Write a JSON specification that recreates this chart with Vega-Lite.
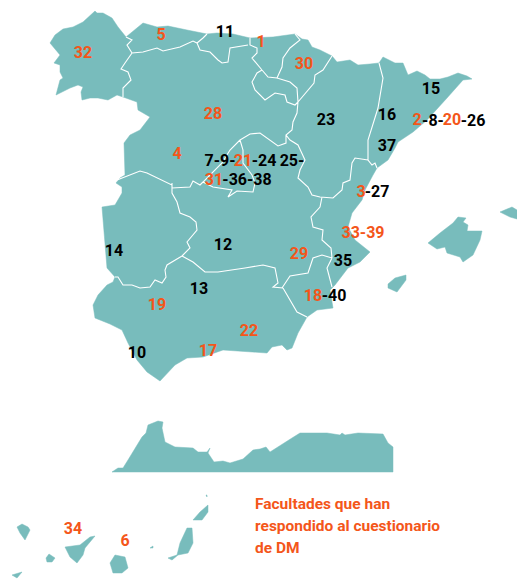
{"$schema":"https://vega.github.io/schema/vega-lite/v6.json","width":517,"height":579,"padding":0,"autosize":"none","background":"white","view":{"stroke":null},"projection":{"type":"identity","scale":1,"translate":[0,0]},"layer":[
{"data":{"values":[
{"type":"Feature","properties":{"name":"Peninsula"},"geometry":{"type":"Polygon","coordinates":[[[50,43],[55,35],[63,29],[73,27],[83,22],[95,11],[97,13],[103,13],[112,18],[118,27],[126,37],[143,23],[157,27],[168,26],[187,30],[207,34],[217,33],[233,34],[250,38],[273,37],[295,34],[302,39],[308,40],[312,47],[320,50],[332,56],[337,62],[350,60],[358,65],[370,64],[379,63],[383,57],[395,63],[403,63],[408,75],[417,71],[425,75],[430,79],[440,79],[448,77],[458,73],[467,76],[472,79],[463,80],[447,98],[427,120],[413,132],[398,142],[395,148],[388,160],[377,168],[373,175],[365,190],[362,200],[352,213],[348,227],[355,240],[370,252],[360,262],[348,268],[335,285],[330,290],[333,308],[317,310],[307,317],[298,333],[292,348],[287,350],[282,345],[272,347],[267,353],[223,350],[203,357],[187,358],[175,365],[160,381],[147,372],[137,360],[128,343],[122,330],[110,324],[95,318],[93,305],[98,295],[107,285],[113,282],[115,277],[107,268],[102,207],[115,205],[122,193],[122,187],[116,183],[120,178],[125,175],[124,143],[130,135],[140,130],[150,117],[138,110],[137,102],[123,97],[117,95],[108,100],[98,98],[90,98],[82,100],[81,92],[83,87],[78,85],[70,88],[56,95],[60,80],[63,78],[60,72],[60,65],[54,63],[60,55],[50,43]]]}},
{"type":"Feature","properties":{"name":"Mallorca"},"geometry":{"type":"Polygon","coordinates":[[[428,243],[440,233],[453,223],[458,217],[466,218],[463,222],[468,225],[467,231],[482,231],[480,240],[473,255],[463,262],[460,257],[447,253],[445,247],[437,249],[428,243]]]}},
{"type":"Feature","properties":{"name":"Menorca"},"geometry":{"type":"Polygon","coordinates":[[[500,212],[512,207],[517,210],[517,219],[510,217],[500,212]]]}},
{"type":"Feature","properties":{"name":"Ibiza"},"geometry":{"type":"Polygon","coordinates":[[[388,284],[395,278],[406,275],[406,280],[397,292],[388,288],[388,284]]]}},
{"type":"Feature","properties":{"name":"Marruecos"},"geometry":{"type":"Polygon","coordinates":[[[112,472],[118,468],[123,468],[128,460],[142,437],[146,433],[148,425],[158,421],[163,422],[162,428],[165,442],[175,447],[193,448],[198,452],[207,452],[210,448],[208,453],[214,462],[223,461],[230,463],[243,459],[253,450],[260,449],[266,447],[270,452],[292,438],[300,433],[327,433],[340,435],[342,433],[345,435],[358,433],[383,434],[388,443],[393,447],[393,472],[112,472]]]}},
{"type":"Feature","properties":{"name":"La Palma"},"geometry":{"type":"Polygon","coordinates":[[[17,527],[22,524],[28,527],[30,530],[25,540],[20,533],[17,527]]]}},
{"type":"Feature","properties":{"name":"Gomera"},"geometry":{"type":"Polygon","coordinates":[[[46,558],[49,554],[55,558],[52,562],[47,562],[46,558]]]}},
{"type":"Feature","properties":{"name":"Hierro"},"geometry":{"type":"Polygon","coordinates":[[[12,575],[22,572],[17,578],[12,575]]]}},
{"type":"Feature","properties":{"name":"Tenerife"},"geometry":{"type":"Polygon","coordinates":[[[65,547],[80,545],[90,537],[95,536],[85,548],[83,555],[77,563],[70,557],[65,547]]]}},
{"type":"Feature","properties":{"name":"Gran Canaria"},"geometry":{"type":"Polygon","coordinates":[[[115,555],[125,557],[128,568],[122,573],[113,573],[110,563],[115,555]]]}},
{"type":"Feature","properties":{"name":"Fuerteventura"},"geometry":{"type":"Polygon","coordinates":[[[168,558],[177,555],[180,543],[187,528],[192,528],[193,543],[188,553],[178,555],[172,560],[168,558]]]}},
{"type":"Feature","properties":{"name":"Lanzarote"},"geometry":{"type":"Polygon","coordinates":[[[193,520],[200,512],[208,505],[208,512],[202,520],[193,520]]]}},
{"type":"Feature","properties":{"name":"Lobos"},"geometry":{"type":"Polygon","coordinates":[[[150,548],[153,546],[153,548],[150,548]]]}},
{"type":"Feature","properties":{"name":"Alegranza"},"geometry":{"type":"Polygon","coordinates":[[[206,495],[207,495],[207,497],[206,495]]]}}
]},"mark":{"type":"geoshape","fill":"#78BCBC","stroke":"#78BCBC","strokeWidth":0.5},"encoding":{}},
{"data":{"values":[
{"type":"Feature","properties":{},"geometry":{"type":"MultiLineString","coordinates":[
[[126,37],[132,40],[127,45],[132,53],[125,63],[121,69],[128,72],[131,80],[123,88],[123,97]],
[[132,53],[143,52],[157,48],[163,51],[180,47],[193,41],[197,43],[203,38],[207,34]],
[[197,43],[200,50],[210,52],[218,60],[222,63],[228,62],[230,48],[248,45]],
[[250,38],[250,45],[257,48],[257,53],[252,58],[262,70]],
[[295,34],[300,40],[290,48],[283,58],[282,67],[277,78]],
[[262,70],[257,73],[252,82],[255,90],[265,100],[275,93],[285,95],[287,102],[295,105],[298,102]],
[[262,70],[268,77],[277,78],[290,82],[297,88],[298,102]],
[[332,56],[323,70],[315,75],[314,83],[298,102]],
[[298,102],[297,113],[293,122],[292,130],[286,135],[286,143],[278,146],[260,133],[250,134],[240,140]],
[[286,135],[290,140],[298,145],[305,160],[300,170],[298,178],[308,187],[312,195],[320,197],[333,198],[342,190],[343,183],[350,180],[352,163],[355,158],[368,160]],
[[379,63],[383,78],[378,108],[368,140],[368,160],[372,165],[375,163],[377,168]],
[[322,197],[320,207],[311,217],[313,227],[323,230],[322,240],[331,248],[332,258]],
[[332,258],[327,268],[332,287]],
[[332,258],[322,255],[313,258],[308,273],[290,276],[282,288]],
[[283,288],[297,312],[307,317]],
[[283,288],[273,287],[278,283],[275,268],[263,265],[245,268],[218,272],[205,272],[193,262],[182,256]],
[[182,256],[167,265],[165,270],[166,277],[162,283],[155,280],[150,287],[140,288],[132,285],[123,285],[118,277],[115,277]],
[[182,256],[190,248],[187,242],[197,230],[196,222],[190,217],[180,213],[177,202],[172,193],[172,183]],
[[117,180],[140,171],[147,173],[172,185],[172,188],[190,187],[193,181],[200,185],[203,182]],
[[240,140],[243,150],[243,163],[252,175],[255,183],[253,192],[237,191],[228,197],[232,190],[213,187],[203,182],[222,163],[230,150],[240,140]]
]}}
]},"mark":{"type":"geoshape","filled":false,"stroke":"#ffffff","strokeWidth":1.1,"fill":null},"encoding":{}},
{"data":{"values":[
{"t":"32","x":83,"y":53,"c":"o"},{"t":"5","x":161,"y":35,"c":"o"},{"t":"11","x":225,"y":32,"c":"k"},{"t":"1","x":261,"y":42,"c":"o"},{"t":"30","x":304,"y":64,"c":"o"},{"t":"28","x":213,"y":114,"c":"o"},{"t":"23","x":326,"y":120,"c":"k"},{"t":"15","x":431,"y":89,"c":"k"},{"t":"16","x":387,"y":115,"c":"k"},
{"t":"2","x":417,"y":120,"c":"o"},{"t":"-8-","x":433,"y":121,"c":"k"},{"t":"20","x":452,"y":120,"c":"o"},{"t":"-26","x":473,"y":121,"c":"k"},
{"t":"37","x":387,"y":146,"c":"k"},{"t":"4","x":177,"y":154,"c":"o"},
{"t":"7-9-","x":220,"y":161,"c":"k"},{"t":"21","x":243,"y":161,"c":"o"},{"t":"-24","x":264,"y":161,"c":"k"},{"t":"25-","x":292,"y":161,"c":"k"},
{"t":"31","x":214,"y":180,"c":"o"},{"t":"-36-38","x":247,"y":180,"c":"k"},
{"t":"3","x":361,"y":192,"c":"o"},{"t":"-27","x":377,"y":192,"c":"k"},
{"t":"33-39","x":363,"y":233,"c":"o"},{"t":"35","x":343,"y":261,"c":"k"},{"t":"29","x":299,"y":254,"c":"o"},{"t":"12","x":223,"y":245,"c":"k"},{"t":"14","x":114,"y":251,"c":"k"},{"t":"13","x":199,"y":289,"c":"k"},{"t":"19","x":157,"y":305,"c":"o"},
{"t":"18","x":313,"y":296,"c":"o"},{"t":"-40","x":334,"y":296,"c":"k"},
{"t":"22","x":249,"y":331,"c":"o"},{"t":"17","x":208,"y":351,"c":"o"},{"t":"10","x":137,"y":353,"c":"k"},{"t":"34","x":73,"y":529,"c":"o"},{"t":"6","x":125,"y":541,"c":"o"}
]},"mark":{"type":"text","font":"Roboto","fontWeight":"bold","fontSize":16,"align":"center","baseline":"middle"},"encoding":{"longitude":{"field":"x","type":"quantitative"},"latitude":{"field":"y","type":"quantitative"},"text":{"field":"t"},"color":{"field":"c","type":"nominal","scale":{"domain":["o","k"],"range":["#F4561A","#000000"]},"legend":null}}},
{"data":{"values":[
{"t":"Facultades que han","x":255,"y":504},{"t":"respondido al cuestionario","x":255,"y":526},{"t":"de DM","x":255,"y":548}
]},"mark":{"type":"text","font":"Roboto","fontWeight":"bold","fontSize":15.5,"align":"left","baseline":"middle","color":"#F4561A"},"encoding":{"longitude":{"field":"x","type":"quantitative"},"latitude":{"field":"y","type":"quantitative"},"text":{"field":"t"}}}
]}
